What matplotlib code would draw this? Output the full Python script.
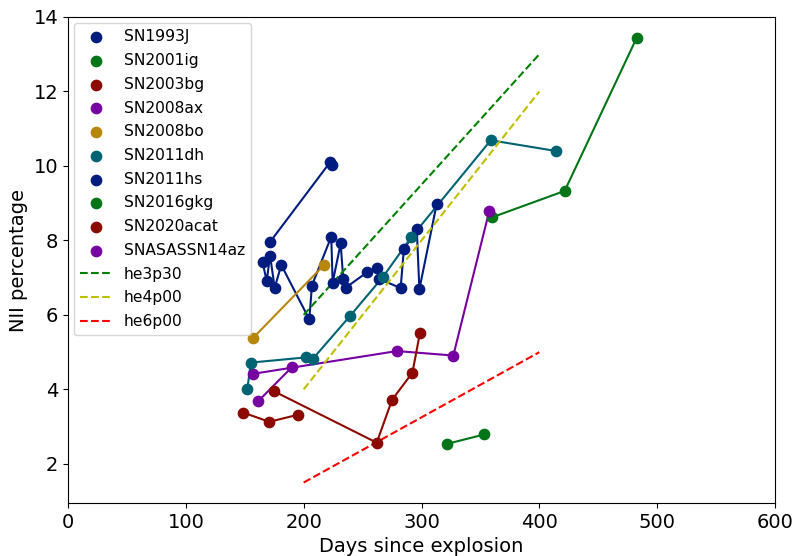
import matplotlib.pyplot as plt

# seaborn old "dark" palette (6 colours)
navy = '#001C7F'
green = '#017517'
red = '#8C0900'
purple = '#7600A1'
gold = '#B8860B'
teal = '#006374'

sn_names = ['SN1993J', 'SN2001ig', 'SN2003bg', 'SN2008ax', 'SN2008bo',
            'SN2011dh', 'SN2011hs', 'SN2016gkg', 'SN2020acat', 'SNASASSN14az']
sn_colors = [navy, green, red, purple, gold, teal, navy, green, red, purple]

sn1993j_days = [165.2, 168.6, 171.5, 175.4, 181.0, 204.8, 207.0, 223.4, 224.6, 231.4,
                233.6, 235.6, 254.0, 262.5, 264.0, 282.3, 285.0, 296.0, 298.2, 312.9]
sn1993j_nii = [7.41, 6.91, 7.59, 6.73, 7.34, 5.88, 6.79, 8.10, 6.87, 7.92,
               6.96, 6.73, 7.15, 7.27, 6.97, 6.72, 7.76, 8.30, 6.69, 8.98]
sn2001ig_days = [359.8, 421.5, 482.6]
sn2001ig_nii = [8.62, 9.33, 13.44]
sn2003bg_days = [148.5, 170.8, 195.2]
sn2003bg_nii = [3.38, 3.13, 3.32]
sn2008ax_days = [157.3, 279.1, 327.0, 357.5]
sn2008ax_nii = [4.42, 5.03, 4.91, 8.79]
sn2008bo_days = [157.0, 217.3]
sn2008bo_nii = [5.38, 7.34]
sn2011dh_days = [152.2, 155.1, 202.0, 207.5, 239.3, 267.3, 291.4, 358.8, 414.5]
sn2011dh_nii = [4.00, 4.72, 4.86, 4.81, 5.97, 7.02, 8.09, 10.69, 10.40]
sn2011hs_days = [171.5, 222.4, 224.2]
sn2011hs_nii = [7.96, 10.10, 10.02]
sn2016gkg_days = [322.0, 353.1]
sn2016gkg_nii = [2.54, 2.79]
sn2020acat_days = [174.8, 262.0, 275.0, 292.3, 298.7]
sn2020acat_nii = [3.95, 2.57, 3.72, 4.45, 5.52]
asassn14az_days = [161.3, 190.1]
asassn14az_nii = [3.68, 4.60]

sn_days = [sn1993j_days, sn2001ig_days, sn2003bg_days, sn2008ax_days, sn2008bo_days,
           sn2011dh_days, sn2011hs_days, sn2016gkg_days, sn2020acat_days, asassn14az_days]
sn_nii = [sn1993j_nii, sn2001ig_nii, sn2003bg_nii, sn2008ax_nii, sn2008bo_nii,
          sn2011dh_nii, sn2011hs_nii, sn2016gkg_nii, sn2020acat_nii, asassn14az_nii]

# model tracks
model_names = ['he3p30', 'he4p00', 'he6p00']
model_colors = ['g', 'y', 'r']
model_days = [200, 400]
model_nii = [[6.0, 13.0], [4.0, 12.0], [1.5, 5.0]]

fig, ax = plt.subplots(figsize=(8.07, 5.56), dpi=100)
fig.subplots_adjust(left=68/807, right=775/807, top=1-17/556, bottom=1-503/556)

for name, c, d, n in zip(sn_names, sn_colors, sn_days, sn_nii):
    ax.scatter(d, n, color=c, s=55, label=name, zorder=3)
    ax.plot(d, n, '-', color=c, lw=1.5, zorder=2)

for name, c, n in zip(model_names, model_colors, model_nii):
    ax.plot(model_days, n, '--', color=c, lw=1.5, label=name)

ax.set_xlim(0, 600)
ax.set_ylim(0.95, 14)
ax.set_xlabel('Days since explosion', fontsize=14)
ax.set_ylabel('NII percentage', fontsize=14)
ax.tick_params(labelsize=14)
ax.legend(loc='upper left', fontsize=11.2, labelspacing=0.56, borderaxespad=0.4)

plt.savefig('out.png')
